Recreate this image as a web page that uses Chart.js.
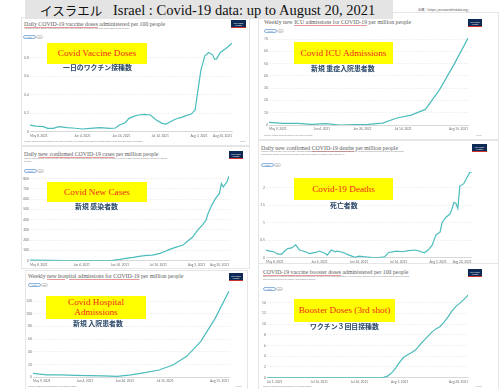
<!DOCTYPE html>
<html><head><meta charset="utf-8">
<script src="https://cdn.jsdelivr.net/npm/chart.js@4.4.1/dist/chart.umd.min.js"></script>
<style>
html,body{margin:0;padding:0;background:#fff;}
#root{position:relative;width:500px;height:389px;overflow:hidden;background:#fff;font-family:Lato,"Noto Sans",sans-serif;}
.abs{position:absolute;white-space:nowrap;}
.card{position:absolute;border:1px solid #e6e6e6;box-sizing:border-box;background:#fff;}
.ttl{font-family:"Liberation Serif",serif;color:#5b5b5b;}
.ttl u{text-decoration:underline;text-decoration-color:#e89a9a;text-decoration-thickness:0.5px;text-underline-offset:0.6px;}
.sub{color:#8c8c8c;}
.logo{position:absolute;background:#0d2a57;border-bottom:1px solid #d0302a;color:#fff;font-size:2px;line-height:2.3px;text-align:center;box-sizing:border-box;padding-top:1.5px;white-space:nowrap;}
.btn{position:absolute;height:4px;border-radius:2px;font-size:1.5px;line-height:4px;text-align:center;box-sizing:border-box;}
.yb{position:absolute;background:#ffff00;color:#f0281e;font-family:"Liberation Serif",serif;display:flex;align-items:center;justify-content:center;text-align:center;}
.jp{font-family:"Noto Sans CJK JP",sans-serif;color:#2b4868;font-weight:bold;}
canvas{position:absolute;}
</style></head>
<body><div id="root"></div>
<script>
// ---------- DATA ----------
const vacDates = ["05-08","05-11","05-15","05-17","05-20","05-23","05-27","05-30","06-04","06-08","06-13","06-18","06-21","06-23","06-26","06-28","07-01","07-03","07-06","07-09","07-12","07-15","07-17","07-20","07-22","07-25","07-27","07-30","08-01","08-02","08-04","08-05","08-06","08-08","08-10","08-11","08-12","08-14","08-17","08-20"];
const vacValues = [0.072,0.061,0.054,0.036,0.036,0.054,0.043,0.040,0.029,0.036,0.043,0.036,0.040,0.072,0.097,0.144,0.170,0.180,0.187,0.180,0.126,0.090,0.083,0.115,0.137,0.155,0.170,0.190,0.234,0.378,0.667,0.739,0.818,0.854,0.829,0.782,0.782,0.854,0.900,0.955];

const weekDates = ["05-09","05-16","05-23","05-30","06-06","06-13","06-20","06-27","07-04","07-11","07-18","07-25","08-01","08-08","08-15"];
const icuValues = [2.2,1.3,1.3,0.5,1.1,0,0.3,0.5,1.5,5.7,8.1,12.7,28.8,49,70.8];
const hospValues = [6.3,3.7,3.7,3.1,2.6,2.1,1.6,3.7,7.3,11.5,19.3,33.4,56.9,92.3,135.6];

const casesDates = ["05-08","05-18","05-27","06-04","06-13","06-20","06-24","06-27","07-01","07-04","07-08","07-11","07-15","07-17","07-20","07-23","07-27","07-29","08-01","08-03","08-06","08-08","08-09","08-11","08-13","08-15","08-16","08-17","08-19","08-20"];
const casesValues = [6,3,2,1,2,3,13,23,32,42,52,55,71,87,110,130,152,185,230,282,347,395,457,541,606,654,751,719,768,823];

const deathDates = ["05-08","05-10","05-12","05-14","05-16","05-17","05-19","05-21","05-23","05-25","05-28","05-30","06-02","06-04","06-07","06-08","06-10","06-12","06-13","06-16","06-19","06-22","06-24","06-27","07-01","07-04","07-07","07-09","07-13","07-16","07-19","07-22","07-24","07-27","07-29","07-31","08-02","08-04","08-05","08-07","08-09","08-10","08-11","08-12","08-13","08-14","08-16","08-17","08-19","08-20"];
const deathValues = [0.22,0.19,0.17,0.10,0.10,0.17,0.26,0.28,0.37,0.22,0.17,0.12,0.15,0.19,0.12,0.075,0.22,0.17,0.19,0.15,0.075,0.01,0.047,0.028,0,0,0.028,0.15,0.19,0.17,0.20,0.22,0.20,0.14,0.22,0.36,0.66,0.73,1.0,1.16,1.25,1.39,1.58,1.56,1.41,2.05,2.12,2.23,2.44,2.45];

const boostDates = ["07-01","07-10","07-20","07-29","07-30","07-31","08-01","08-02","08-03","08-04","08-05","08-06","08-07","08-08","08-09","08-10","08-11","08-12","08-13","08-14","08-15","08-16","08-17","08-18","08-19","08-20"];
const boostValues = [0,0,0,0,0.06,0.3,0.9,1.8,2.9,3.8,4.3,4.7,5.2,6.1,6.9,7.7,8.5,9.1,9.5,10.3,11.3,12.4,13.3,13.9,14.6,15.4];

// tick labels
const dailyXTicks = ["05-08","06-04","06-24","07-14","08-03","08-20"];
const weeklyXTicks = ["05-09","06-04","06-24","07-14","08-15"];
const boostXTicks = ["07-01","07-14","07-24","08-03","08-20"];
const vacYTicks = [0,0.2,0.4,0.6,0.8];
const icuYTicks = [0,10,20,30,40,50,60,70];
const casesYTicks = [0,100,200,300,400,500,600,700,800];
const deathYTicks = [0,0.5,1,1.5,2];
const hospYTicks = [0,20,40,60,80,100,120];
const boostYTicks = [0,2,4,6,8,10,12,14];

// ---------- HELPERS ----------
const MONTHS=["Jan","Feb","Mar","Apr","May","Jun","Jul","Aug","Sep","Oct","Nov","Dec"];
function dayNum(s){const p=s.split("-").map(Number);return Date.UTC(2021,p[0]-1,p[1])/86400000;}
function dateLabel(s){const p=s.split("-").map(Number);return MONTHS[p[0]-1]+" "+p[1]+", 2021";}
const root=document.getElementById('root');
const LINE='#4cbcbc';

function el(cls,css,html){const e=document.createElement('div');e.className=cls;e.style.cssText=css;if(html!==undefined)e.innerHTML=html;root.appendChild(e);return e;}
function txt(x,cy,fs,html,cls,extra){const h=fs*1.4;return el('abs '+(cls||''),`left:${x}px;top:${cy-h/2}px;height:${h}px;line-height:${h}px;font-size:${fs}px;`+(extra||''),html);}
function txtR(xr,cy,fs,html,cls){const e=txt(xr,cy,fs,html,cls,'transform:translateX(-100%);');return e;}

function makeChart(plot,dates,values,xTicks,yTicks,yMax){
  const yW=12,padT=2,padR=2,xH=8;
  const cl=Math.floor(plot.l-yW),ct=Math.floor(plot.t-padT);
  const cw=Math.ceil(plot.r+padR-cl),ch=Math.ceil(plot.b+xH-ct);
  const yWidth=plot.l-cl,padTop=plot.t-ct,padRight=cw-(plot.r-cl),xHeight=ch-(plot.b-ct);
  const cv=document.createElement('canvas');
  cv.width=cw;cv.height=ch;
  cv.style.cssText=`left:${cl}px;top:${ct}px;width:${cw}px;height:${ch}px;`;
  root.appendChild(cv);
  const xs=dates.map(dayNum);
  const tv=xTicks.map(dayNum);
  new Chart(cv,{type:'line',
    data:{datasets:[{data:dates.map((d,i)=>({x:xs[i],y:values[i]})),borderColor:LINE,borderWidth:1.2,pointRadius:0,tension:0,fill:false}]},
    options:{responsive:false,animation:false,events:[],
      layout:{padding:{left:0,top:padTop,right:padRight,bottom:0}},
      plugins:{legend:{display:false},tooltip:{enabled:false}},
      scales:{
        x:{type:'linear',min:xs[0],max:xs[xs.length-1],
          afterBuildTicks:s=>{s.ticks=tv.map(v=>({value:v}));},
          afterFit:s=>{s.height=xHeight;},
          grid:{display:false,drawTicks:false},
          border:{display:true,color:'#c4c4c4',width:0.6},
          ticks:{align:'inner',autoSkip:false,maxRotation:0,minRotation:0,padding:2,color:'#6e6e6e',font:{size:3.2,family:'Lato'},
            callback:v=>{const i=tv.indexOf(v);return i>=0?dateLabel(xTicks[i]):'';}}},
        y:{type:'linear',min:0,max:yMax,
          afterBuildTicks:s=>{s.ticks=yTicks.map(v=>({value:v}));},
          afterFit:s=>{s.width=yWidth;},
          grid:{color:'#e0e0e0',lineWidth:0.6,drawTicks:false},
          border:{display:false,dash:[1.5,1.5]},
          ticks:{padding:1.2,color:'#6e6e6e',font:{size:3.2,family:'Lato'},callback:v=>String(v)}}
      }}});
}

// ---------- CARDS ----------
[[21,17,229,129],[258,12,241,128],[21,146,229,123],[258,140,241,124],[25,270,223,121],[258,263,241,128]]
 .forEach(c=>el('card',`left:${c[0]}px;top:${c[1]}px;width:${c[2]}px;height:${c[3]}px;`));

// header
el('abs','left:25px;top:0;width:368px;height:19px;background:#e4e4e4;');
txt(40,10.5,12.5,'イスラエル','jp','color:#111;font-weight:normal;');
txt(113,10.5,14.5,'Israel : Covid-19 data: up to August 20, 2021','', 'font-family:"Liberation Serif",serif;color:#111;');
txt(418,10,3.2,'出典：https://ourworldindata.org/','', 'color:#555;font-family:"Noto Sans CJK JP",sans-serif;');

// titles
txt(24,24,5.8,'<u>Daily COVID-19 vaccine doses</u> administered per 100 people','ttl');
txt(24,28.6,2.3,'Number of daily doses administered (rolling 7-day average), divided by the total population of the country.','sub');
txt(264,21.7,5.8,'Weekly new <u>ICU admissions for COVID-19</u> per million people','ttl');
txt(24,154.3,5.8,'Daily <u>new confirmed COVID-19 cases</u> per million people','ttl');
txt(24,159,2.3,'Shown is the rolling 7-day average. The number of confirmed cases is lower than the number of actual cases; the main reason for that is limited','sub');
txt(24,162,2.3,'testing.','sub');
txt(261,147.7,5.8,'Daily new confirmed <u>COVID-19 deaths</u> per million people','ttl');
txt(261,152,2.3,'Shown is the rolling 7-day average. Limited testing and challenges in the attribution of the cause of death means that the number of confirmed','sub');
txt(261,155,2.3,'deaths may not be an accurate count of the true number of deaths from COVID-19.','sub');
txt(28,275.7,5.8,'Weekly <u>new hospital admissions for COVID-19</u> per million people','ttl');
txt(263,272.3,5.8,'<u>COVID-19 vaccine booster doses</u> administered per 100 people','ttl');
txt(263,276.7,2.3,'Total number of vaccine booster doses administered, divided by the total population of the country. Booster doses are doses administered beyond','sub');
txt(263,279.4,2.3,'those prescribed by the original vaccination protocol.','sub');

// footers
txt(24,141.7,2.2,'Source: Official data collated by Our World in Data. For vaccines that require multiple doses, each individual dose is counted.','sub');
txtR(246,141.7,2.2,'CC BY','sub');
txt(264,135.7,2.2,'Source: Official data collated by Our World in Data','sub');
txtR(482,135.7,2.2,'CC BY','sub');
txt(28,387,2.2,'Source: Official data collated by Our World in Data','sub');
txtR(242,387,2.2,'CC BY','sub');
txt(263,387,2.2,'Source: Official data collated by Our World in Data','sub');
txtR(482,387,2.2,'CC BY','sub');

// logos
[[231,20,15],[468,19,14],[229,151,14],[472,144,15],[229,273,14],[468,269,14]]
 .forEach(l=>el('logo',`left:${l[0]}px;top:${l[1]}px;width:${l[2]}px;height:8px;`,'Our World<br>in Data'));

// buttons
[[23,35],[264,29],[24,169],[261,163],[28,283],[263,287]].forEach(b=>{
  el('btn',`left:${b[0]}px;top:${b[1]}px;width:12.5px;border:0.5px solid #8fb5e0;background:#f3f8fd;color:#3b6fb0;`,'LINEAR');
  el('btn',`left:${b[0]+13}px;top:${b[1]}px;width:6.5px;border:0.5px solid #d4d4d4;background:#f6f6f6;color:#777;`,'LOG');
});

// ---------- CHARTS ----------
makeChart({l:30,r:232,t:42.9,b:131.7},vacDates,vacValues,dailyXTicks,vacYTicks,0.955);
makeChart({l:269,r:468,t:37.3,b:125},weekDates,icuValues,weeklyXTicks,icuYTicks,70.8);
makeChart({l:30,r:229,t:175.9,b:260.7},casesDates,casesValues,dailyXTicks,casesYTicks,823);
makeChart({l:266,r:471.7,t:171,b:257.7},deathDates,deathValues,dailyXTicks,deathYTicks,2.45);
makeChart({l:33,r:229,t:290.5,b:377.3},weekDates,hospValues,weeklyXTicks,hospYTicks,135.6);
makeChart({l:267,r:468,t:294.5,b:377.7},boostDates,boostValues,boostXTicks,boostYTicks,15.4);

// ---------- OVERLAYS ----------
function ybox(x,y,w,h,html,fs,lh){el('yb',`left:${x}px;top:${y}px;width:${w}px;height:${h}px;font-size:${fs}px;line-height:${lh||fs*1.15}px;`,html);}
ybox(47,43,100,21,'Covid Vaccine Doses',9.2);
ybox(294,42,99,22,'Covid ICU Admissions',9.2);
ybox(47,182,100,20,'Covid New Cases',9.2);
ybox(294,178,99,22,'Covid-19 Deaths',9.2);
ybox(46,296,100,23,'Covid Hospital<br>Admissions',9.2,9.5);
ybox(294,299,101,23,'Booster Doses (3rd shot)',9.2);

txt(63,68,6.9,'一日のワクチン接種数','jp');
txt(311,69.3,6.9,'新規 重症入院患者数','jp');
txt(75,206.7,6.9,'新規 感染者数','jp');
txt(330,205.7,6.9,'死亡者数','jp');
txt(73,324,6.9,'新規 入院患者数','jp');
txt(310,326.7,6.9,'ワクチン３回目接種数','jp');
</script>
</body></html>
